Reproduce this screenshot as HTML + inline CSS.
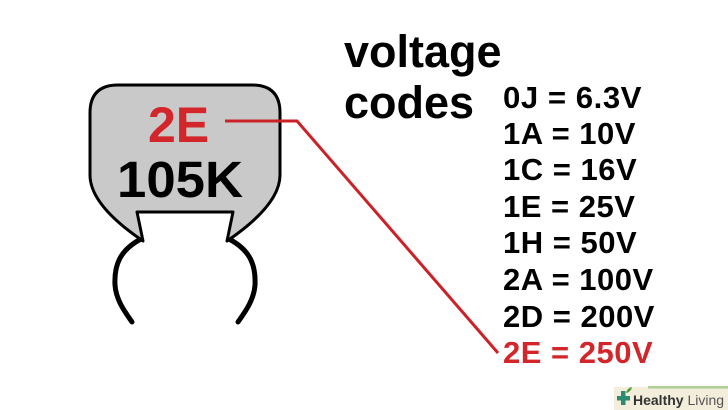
<!DOCTYPE html>
<html>
<head>
<meta charset="utf-8">
<style>
  html, body { margin: 0; padding: 0; background: #ffffff; }
  body { width: 728px; height: 410px; overflow: hidden; }
  svg { display: block; }
  text { font-family: "Liberation Sans", Arial, sans-serif; }
</style>
</head>
<body>
<svg width="728" height="410" viewBox="0 0 728 410" xmlns="http://www.w3.org/2000/svg">
  <rect x="0" y="0" width="728" height="410" fill="#ffffff"/>

  <!-- capacitor leads -->
  <path d="M 141 239 C 120 250, 114 265, 115 285 C 116 300, 125 312, 132 322" fill="none" stroke="#000" stroke-width="5" stroke-linecap="round"/>
  <path d="M 229 239 C 250 250, 256 265, 255 285 C 254 300, 245 312, 238 322" fill="none" stroke="#000" stroke-width="5" stroke-linecap="round"/>

  <!-- capacitor body -->
  <path d="M 118 85 L 252 85 Q 280 85 280 113 L 280 175 Q 280 205 227 241 L 233 212 L 137 212 L 143 241 Q 90 205 90 175 L 90 113 Q 90 85 118 85 Z"
        fill="#c9c9c9" stroke="#000" stroke-width="3" stroke-linejoin="round"/>

  <!-- body labels -->
  <text x="148" y="142" font-size="50" font-weight="bold" fill="#d2262b">2E</text>
  <text x="117" y="197" font-size="51" font-weight="bold" fill="#000" textLength="126" lengthAdjust="spacingAndGlyphs">105K</text>

  <!-- red connector -->
  <polyline points="225,121 297,121 498,353" fill="none" stroke="#cc2127" stroke-width="3" stroke-linejoin="miter"/>

  <!-- heading -->
  <text x="344" y="67" font-size="45" font-weight="bold" fill="#000">voltage</text>
  <text x="344" y="118" font-size="45" font-weight="bold" fill="#000">codes</text>

  <!-- codes list -->
  <g font-size="31" font-weight="bold" fill="#000" letter-spacing="0.5">
    <text x="503" y="108" textLength="139" lengthAdjust="spacingAndGlyphs">0J = 6.3V</text>
    <text x="503" y="144">1A = 10V</text>
    <text x="503" y="180">1C = 16V</text>
    <text x="503" y="217">1E = 25V</text>
    <text x="503" y="253">1H = 50V</text>
    <text x="503" y="290">2A = 100V</text>
    <text x="503" y="327">2D = 200V</text>
    <text x="503" y="363" fill="#d2262b">2E = 250V</text>
  </g>

  <!-- Healthy Living logo -->
  <rect x="614" y="387" width="114" height="23" fill="#f3eddb"/>
  <rect x="648" y="386" width="80" height="2.5" fill="#aed096"/>
  <rect x="617" y="396" width="13" height="4.5" fill="#2f8a72"/>
  <rect x="621" y="391" width="4.5" height="14" fill="#2f8a72"/>
  <path d="M 626 393 Q 627 388 632 387 Q 631 392 626 393 Z" fill="#4f9a3a"/>
  <text x="633" y="405" font-size="14" fill="#333"><tspan font-weight="bold">Healthy</tspan> <tspan fill="#555">Living</tspan></text>
</svg>
</body>
</html>
